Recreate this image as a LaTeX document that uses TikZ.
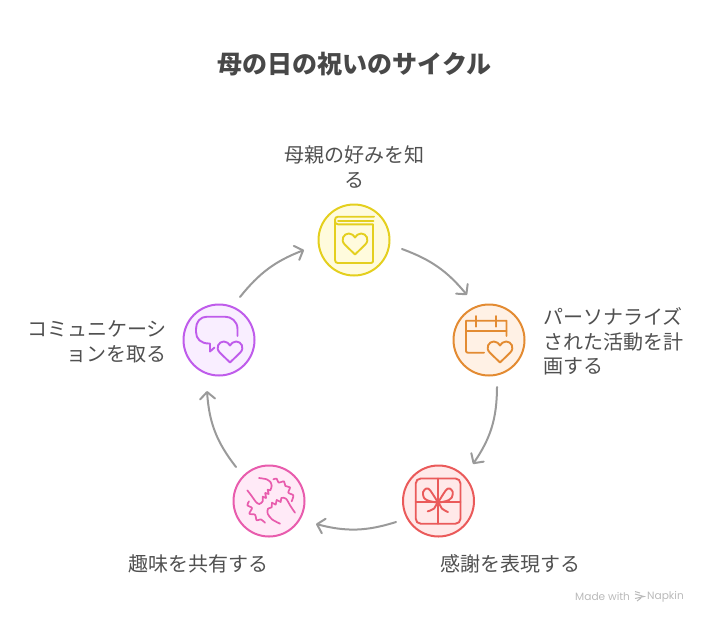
\documentclass[tikz,border=0pt]{standalone}
\usepackage{fontspec}
\usetikzlibrary{arrows.meta}
\setmainfont{Noto Sans CJK JP}
\newfontfamily\latinfont{Poppins}
\definecolor{txt}{HTML}{505050}
\definecolor{ttl}{HTML}{484848}
\definecolor{arr}{HTML}{9A9A9A}
\definecolor{yS}{HTML}{E4CF1E}\definecolor{yF}{HTML}{FFFBDD}
\definecolor{oS}{HTML}{E38B32}\definecolor{oF}{HTML}{FFF1E5}
\definecolor{rS}{HTML}{EA5A5A}\definecolor{rF}{HTML}{FFE9E9}
\definecolor{pS}{HTML}{E85CAD}\definecolor{pF}{HTML}{FFEAF7}
\definecolor{vS}{HTML}{BF5CEB}\definecolor{vF}{HTML}{F9EEFF}
\tikzset{
  stepcircle/.style={circle,draw=#1S,fill=#1F,line width=2pt,minimum size=71pt,inner sep=0pt},
  icon/.style={draw=#1S,line width=1.9pt,line cap=round,line join=round},
  flow/.style={draw=arr,line width=2pt,line cap=round,-{Straight Barb[length=7pt,width=15pt,line width=2pt,round]}},
  lbl/.style={text=txt,font=\fontsize{20}{24.6}\selectfont,inner sep=0pt},
}
\newcommand{\myheart}[3]{%
  (#1,#2+10.5) -- (#1-10.3,#2+0.5)
  .. controls (#1-15,#2-4.5) and (#1-11,#2-10.5) .. (#1-6.2,#2-10.5)
  .. controls (#1-3.2,#2-10.5) and (#1-1,#2-8.5) .. (#1,#2-6.5)
  .. controls (#1+1,#2-8.5) and (#1+3.2,#2-10.5) .. (#1+6.2,#2-10.5)
  .. controls (#1+11,#2-10.5) and (#1+15,#2-4.5) .. (#1+10.3,#2+0.5)
  -- cycle}
\begin{document}
\begin{tikzpicture}[x=1pt,y=-1pt]
\useasboundingbox (0,0) rectangle (708,624);
\node[text=ttl,font=\fontsize{25}{30}\selectfont\bfseries,inner sep=0pt] (title) at (354.5,64.5) {母の日の祝いのサイクル};
% circles
\node[stepcircle=y] (know) at (354,240) {};
\node[stepcircle=o] (plan) at (489,340) {};
\node[stepcircle=r] (thanks) at (438.5,501) {};
\node[stepcircle=p] (share) at (269,501) {};
\node[stepcircle=v] (talk) at (219,340) {};
% connector ends, placed relative to their circles
\coordinate (a1s) at ([shift={(48,9)}]know.center);
\coordinate (a1e) at ([shift={(-22,-45)}]plan.center);
\coordinate (a2s) at ([shift={(8,47)}]plan.center);
\coordinate (a2e) at ([shift={(34.5,-37)}]thanks.center);
\coordinate (a3s) at ([shift={(-42.5,21)}]thanks.center);
\coordinate (a3e) at ([shift={(47,23)}]share.center);
\coordinate (a4s) at ([shift={(-33,-34)}]share.center);
\coordinate (a4e) at ([shift={(-12,51)}]talk.center);
\coordinate (a5s) at ([shift={(21,-43)}]talk.center);
\coordinate (a5e) at ([shift={(-50,10)}]know.center);
% arrows
\draw[flow] (a1s) to[bend left=15] (a1e);
\draw[flow] (a2s) to[bend left=17] (a2e);
\draw[flow] (a3s) to[bend left=16] (a3e);
\draw[flow] (a4s) to[bend left=17] (a4e);
\draw[flow] (a5s) to[bend left=15] (a5e);
% labels
\node[lbl,align=center,anchor=north] (l1) at (354.5,145.5) {母親の好みを知\\る};
\node[lbl,align=left,anchor=west] (l2) at (543,341.5) {パーソナライズ\\された活動を計\\画する};
\node[lbl] (l3) at (510,563.5) {感謝を表現する};
\node[lbl] (l4) at (198,563.5) {趣味を共有する};
\node[lbl,align=right,anchor=east] (l5) at (167,342) {コミュニケーシ\\ョンを取る};
% book icon
\begin{scope}[icon=y]
\draw (374,216.7) -- (338,216.7) .. controls (336,216.7) and (335,218) .. (335,220) -- (335,260) .. controls (335,262) and (336,263) .. (338,263) -- (371,263) .. controls (372.5,263) and (373,262) .. (373,261) -- (373,224.3) -- (338,224.3) .. controls (336,224.3) and (335,223) .. (335,221);
\draw (338,220.6) -- (373.5,220.6);
\draw \myheart{355}{244}{1};
\end{scope}
% calendar icon
\begin{scope}[icon=o]
\draw (484,352.7) -- (468,352.7) .. controls (467,352.7) and (466,352) .. (466,351) -- (466,320.7) -- (506.5,320.7) -- (506.5,336);
\draw (466,330.7) -- (506.5,330.7);
\draw (475.7,316) -- (475.7,326.7);
\draw (496,316) -- (496,326.7);
\draw \myheart{500}{352}{1};
\end{scope}
% gift icon
\begin{scope}[icon=r]
\draw[rounded corners=5pt] (415.7,478.5) rectangle (460.5,523.7);
\draw (438.2,478.5) -- (438.2,523.7);
\draw (415.7,502) -- (460.5,502);
\end{scope}
\begin{scope}[icon=r,shift={(410,472)},x=.3333pt,y=-.3333pt]
\draw plot[smooth,tension=.75] coordinates {(84,92) (68,66) (55,50) (43,54) (39,68) (50,84) (84,92)};
\draw plot[smooth,tension=.75] coordinates {(84,92) (100,66) (113,50) (125,54) (128,68) (117,84) (84,92)};
\draw plot[smooth,tension=.7] coordinates {(53,118) (72,110) (84,92) (96,110) (114,120)};
\end{scope}
% hands icon
\begin{scope}[icon=p,line width=1.7pt,shift={(240,472)},x=.3333pt,y=-.3333pt]
\draw plot[smooth,tension=.5] coordinates {(57,18) (80,22) (92,31) (95,42)};
\draw plot[smooth,tension=.5] coordinates {(95,42) (91,55) (83,53) (86,66) (76,63) (78,78) (68,74) (68,88) (58,96) (48,90) (35,72) (22,55)};
\draw plot[smooth,tension=.5] coordinates {(100,22) (110,20) (116,32) (132,28) (136,42) (150,46) (145,62) (160,70) (155,88)};
\draw plot[smooth,tension=.5] coordinates {(165,122) (152,103) (138,80) (124,78) (122,90) (110,84) (107,98) (96,92) (95,106) (84,110) (83,125) (96,142) (120,155)};
\draw plot[smooth,tension=.5] coordinates {(27,88) (22,100) (36,108) (28,125) (45,128) (50,145) (62,142) (75,152)};
\end{scope}
% speech icon
\begin{scope}[icon=v]
\draw (237.5,336) -- (237.5,329) .. controls (237.5,321) and (231,316.7) .. (225,316.7) -- (207,316.7) .. controls (200,316.7) and (196,322) .. (196,329) -- (196,332) .. controls (196,339) and (201,343.5) .. (209,343.5) -- (210,343.5) -- (210,351.5) -- (214.5,347.5);
\draw \myheart{230}{352}{1};
\end{scope}
% footer
\node[text=black!27,font=\latinfont\fontsize{10.6}{13}\selectfont,inner sep=0pt,anchor=west] (made) at (575,596.5) {Made with};
\node[text=black!27,font=\latinfont\fontsize{10.6}{13}\selectfont,inner sep=0pt,anchor=west] (nap) at (647,596.5) {Napkin};
\draw[black!27,line width=1pt] (635,591.5) -- (640,593) (635,594) -- (644,596.5) -- (635,598.5) (637,601) -- (641,598);
\end{tikzpicture}
\end{document}
